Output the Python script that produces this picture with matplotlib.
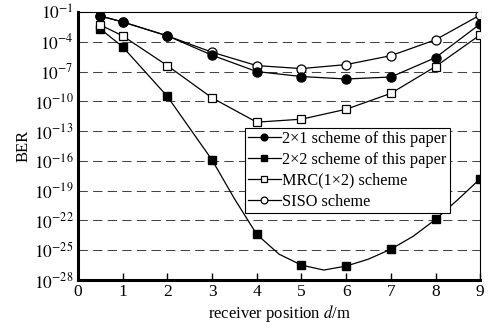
import matplotlib
matplotlib.use("Agg")
import matplotlib.pyplot as plt
import numpy as np

plt.rcParams['font.family'] = ['Liberation Serif', 'DejaVu Serif']
plt.rcParams['mathtext.fontset'] = 'stix'

# Data (log10 BER)
x_mark = [0.5, 1, 2, 3, 4, 5, 6, 7, 8, 9]
ber_2x1 = [-1.4, -2.0, -3.4, -5.35, -7.0, -7.5, -7.75, -7.55, -5.6, -2.2]
ber_2x2 = [-2.7, -4.5, -9.5, -15.9, -23.4, -26.5, -26.6, -24.9, -21.9, -17.8]
ber_mrc = [-2.3, -3.4, -6.4, -9.65, -12.1, -11.8, -10.8, -9.2, -6.5, -3.3]
ber_siso = [-1.4, -2.0, -3.4, -5.05, -6.4, -6.7, -6.3, -5.4, -3.8, -1.3]

# extra points along the 2x2 curve
x_2x2_line = [0.5, 1, 2, 3, 3.5, 4, 4.5, 5, 5.5, 6, 6.5, 7, 7.5, 8, 8.5, 9]
ber_2x2_line = [-2.7, -4.5, -9.5, -15.9, -19.8, -23.4, -25.4, -26.5, -27.0, -26.6,
                -25.9, -24.9, -23.6, -21.9, -19.9, -17.8]

labels = ["2\u00d71 scheme of this paper", "2\u00d72 scheme of this paper",
          "MRC(1\u00d72) scheme", "SISO scheme"]
xticks = list(range(0, 10))
yticks_exp = [-1, -4, -7, -10, -13, -16, -19, -22, -25, -28]

fig = plt.figure(figsize=(4.9, 3.29), dpi=100)
ax = fig.add_axes([0.159, 0.149, 0.821, 0.8145])

def p(v):
    return [10.0 ** e for e in v]

lw = 0.9
ms_c = 6.5
ms_s = 5.8
ax.plot(x_mark, p(ber_2x1), '-', color='black', lw=lw, marker='o', ms=ms_c,
        mfc='black', mec='black', label=labels[0], zorder=4)
ax.plot(x_2x2_line, p(ber_2x2_line), '-', color='black', lw=lw, zorder=3)
ax.plot(x_mark, p(ber_2x2), 'none', marker='s', ms=ms_s, mfc='black', mec='black', zorder=4)
ax.plot([], [], '-', color='black', lw=lw, marker='s', ms=ms_s, mfc='black', mec='black', label=labels[1])
ax.plot(x_mark, p(ber_mrc), '-', color='black', lw=lw, marker='s', ms=ms_s,
        mfc='white', mec='black', mew=0.9, label=labels[2], zorder=4)
ax.plot(x_mark, p(ber_siso), '-', color='black', lw=lw, marker='o', ms=ms_c,
        mfc='white', mec='black', mew=0.9, label=labels[3], zorder=3.5)

ax.set_yscale('log')
ax.set_xlim(0, 9)
ax.set_ylim(1e-28, 1e-1)
ax.set_xticks(xticks)
ax.set_xticklabels([str(t) for t in xticks], fontsize=12.5)
ax.set_yticks([10.0 ** e for e in yticks_exp])
ax.set_yticklabels([r'$10^{%d}$' % e for e in yticks_exp], fontsize=12.5)
ax.minorticks_off()
ax.tick_params(axis='x', direction='in', length=5, width=1, pad=3)
ax.tick_params(axis='y', length=0, pad=3)

for e in yticks_exp[1:-1]:
    ax.axhline(10.0 ** e, color='#444444', lw=0.75, ls=(0, (9, 5)), zorder=1)

for s in ['left', 'bottom']:
    ax.spines[s].set_linewidth(2.2)
for s in ['top', 'right']:
    ax.spines[s].set_linewidth(0.8)

ax.set_xlabel(r'receiver position $\mathit{d}$/m', fontsize=12, labelpad=2)
ax.set_ylabel('BER', fontsize=12, labelpad=2)

leg = ax.legend(loc='upper left', bbox_to_anchor=(0.415, 0.568), fontsize=11.7,
                frameon=True, fancybox=False, edgecolor='black', framealpha=1,
                handlelength=2.0, handletextpad=0.1, labelspacing=0.3,
                borderpad=0.2, borderaxespad=0, markerscale=0.75)
leg.get_frame().set_linewidth(0.8)

fig.savefig('out.png', dpi=100)
